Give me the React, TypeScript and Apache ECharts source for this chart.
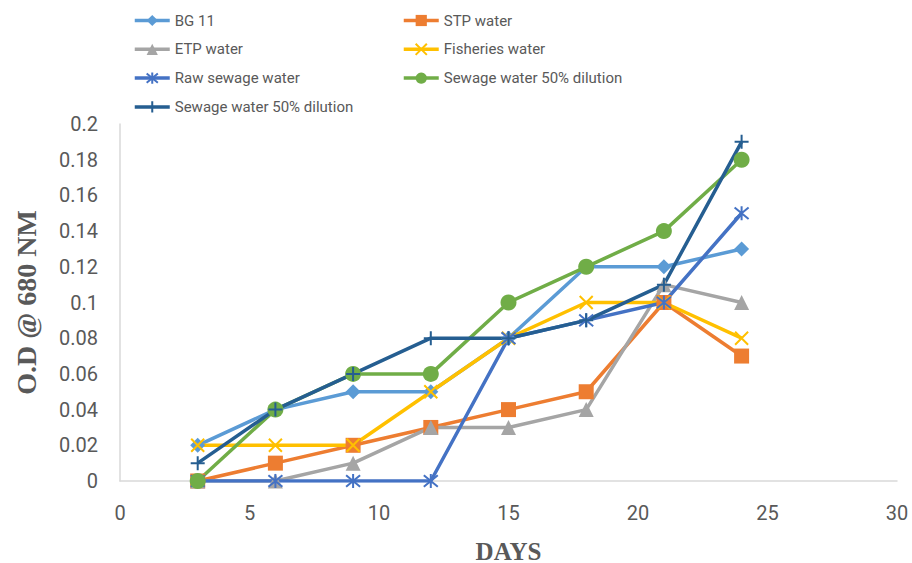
import React, { useEffect, useRef } from "react";
import * as echarts from "echarts";

const days = [3, 6, 9, 12, 15, 18, 21, 24];
const bg11 = [0.02, 0.04, 0.05, 0.05, 0.08, 0.12, 0.12, 0.13];
const stpWater = [0, 0.01, 0.02, 0.03, 0.04, 0.05, 0.1, 0.07];
const etpWater = [0, 0, 0.01, 0.03, 0.03, 0.04, 0.11, 0.1];
const fisheriesWater = [0.02, 0.02, 0.02, 0.05, 0.08, 0.1, 0.1, 0.08];
const rawSewage = [0, 0, 0, 0, 0.08, 0.09, 0.1, 0.15];
const sewageDilGreen = [0, 0.04, 0.06, 0.06, 0.1, 0.12, 0.14, 0.18];
const sewageDilBlue = [0.01, 0.04, 0.06, 0.08, 0.08, 0.09, 0.11, 0.19];
const xTicks = { min: 0, max: 30, interval: 5 };
const yTicks = { min: 0, max: 0.2, interval: 0.02 };

const seriesNames = [
  "BG 11",
  "STP water",
  "ETP water",
  "Fisheries water",
  "Raw sewage water",
  "Sewage water 50% dilution",
  "Sewage water 50% dilution\u200B",
];

const X_PATH = "path://M0,0L10,10M10,0L0,10";
const AST_PATH = "path://M0,0L10,10M10,0L0,10M5,-1L5,11";
const PLUS_PATH = "path://M5,0L5,10M0,5L10,5";

export default function App() {
  const ref = useRef<HTMLDivElement>(null);
  useEffect(() => {
    document.body.style.margin = "0";
    if (!ref.current) return;
    const chart = echarts.init(ref.current, null, { renderer: "svg" });
    const mk = (
      name: string,
      values: number[],
      color: string,
      symbol: string,
      size: number,
      stroke: boolean
    ) => ({
      name,
      type: "line",
      data: days.map((d, i) => [d, values[i]]),
      symbol,
      symbolSize: size,
      showSymbol: true,
      lineStyle: { color, width: 3.5 },
      itemStyle: stroke
        ? { color: color, borderColor: color, borderWidth: 2 }
        : { color: color, borderWidth: 0 },
      emphasis: { disabled: true },
    });
    const series = [
      mk(seriesNames[0], bg11, "#5B9BD5", "diamond", 15, false),
      mk(seriesNames[1], stpWater, "#ED7D31", "rect", 15, false),
      mk(seriesNames[2], etpWater, "#A5A5A5", "triangle", 15, false),
      mk(seriesNames[3], fisheriesWater, "#FFC000", X_PATH, 13, true),
      mk(seriesNames[4], rawSewage, "#4472C4", AST_PATH, 14, true),
      mk(seriesNames[5], sewageDilGreen, "#70AD47", "circle", 16, false),
      mk(seriesNames[6], sewageDilBlue, "#255E91", PLUS_PATH, 14, true),
    ];
    const legendCommon = {
      orient: "vertical",
      top: 8,
      itemWidth: 35,
      itemHeight: 14,
      itemGap: 13.8,
      textStyle: { color: "#595959", fontSize: 15, fontFamily: "Roboto" },
      lineStyle: { width: 3.5 },
      selectedMode: false,
    };
    chart.setOption({
      animation: false,
      backgroundColor: "#ffffff",
      legend: [
        {
          ...legendCommon,
          left: 128,
          data: [seriesNames[0], seriesNames[2], seriesNames[4], seriesNames[6]],
        },
        {
          ...legendCommon,
          left: 397,
          data: [seriesNames[1], seriesNames[3], seriesNames[5]],
        },
      ],
      grid: {
        left: 120,
        right: 15,
        top: 124,
        bottom: 82,
        containLabel: false,
        outerBoundsMode: "none",
      },
      xAxis: {
        type: "value",
        min: xTicks.min,
        max: xTicks.max,
        interval: xTicks.interval,
        name: "DAYS",
        nameLocation: "middle",
        nameGap: 59,
        nameTextStyle: {
          fontFamily: "Liberation Serif",
          fontWeight: "bold",
          fontSize: 25,
          lineHeight: 22,
          color: "#595959",
        },
        axisLine: { show: true, lineStyle: { color: "#D9D9D9", width: 1.5 } },
        axisTick: { show: false },
        splitLine: { show: false },
        axisLabel: {
          color: "#595959",
          fontSize: 20,
          fontFamily: "Roboto",
          margin: 22,
        },
      },
      yAxis: {
        type: "value",
        min: yTicks.min,
        max: yTicks.max,
        interval: yTicks.interval,
        name: "O.D @ 680 NM",
        nameLocation: "middle",
        nameGap: 80,
        nameTextStyle: {
          fontFamily: "Liberation Serif",
          fontWeight: "bold",
          fontSize: 28,
          color: "#595959",
        },
        axisLine: { show: true, lineStyle: { color: "#D9D9D9", width: 1.5 } },
        axisTick: { show: false },
        splitLine: { show: false },
        axisLabel: {
          color: "#595959",
          fontSize: 20,
          fontFamily: "Roboto",
          margin: 22,
          formatter: (v: number) => String(parseFloat(v.toFixed(2))),
        },
      },
      series,
    });
    return () => chart.dispose();
  }, []);
  return <div ref={ref} style={{ width: 912, height: 563 }} />;
}
